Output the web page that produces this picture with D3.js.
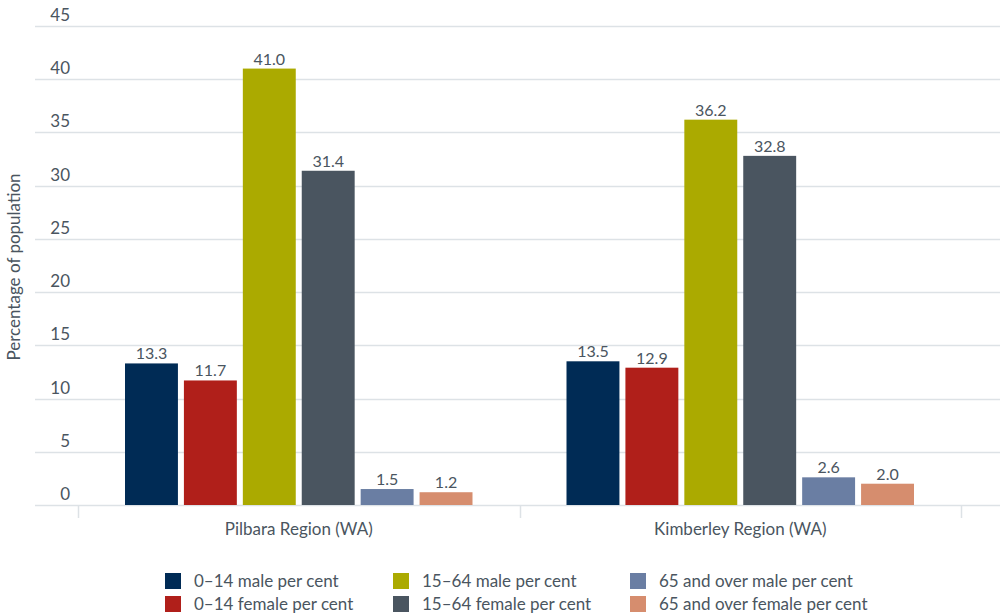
<!DOCTYPE html>
<html>
<head>
<meta charset="utf-8">
<script src="https://cdn.jsdelivr.net/npm/d3@7"></script>
<style>
  html, body { margin: 0; padding: 0; background: #fff; }
  svg { display: block; font-family: "Lato", "Open Sans", sans-serif; }
</style>
</head>
<body>
<svg id="chart" width="1000" height="614"></svg>
<script>
// Regions shown along the x axis
const regions = ["Pilbara Region (WA)", "Kimberley Region (WA)"];

// Age/sex groups (one bar each per region)
const seriesNames = [
  "0\u201314 male per cent",
  "0\u201314 female per cent",
  "15\u201364 male per cent",
  "15\u201364 female per cent",
  "65 and over male per cent",
  "65 and over female per cent"
];

// Percentage of population per series, ordered as regions
const male0to14     = [13.3, 13.5];
const female0to14   = [11.7, 12.9];
const male15to64    = [41.0, 36.2];
const female15to64  = [31.4, 32.8];
const male65plus    = [1.5, 2.6];
const female65plus  = [1.2, 2.0];

const yTicks = [0, 5, 10, 15, 20, 25, 30, 35, 40, 45];

const seriesColors = ["#002b55", "#b01f1a", "#abaa00", "#4a5560", "#6a7ea3", "#d68d6e"];

const seriesValues = [male0to14, female0to14, male15to64, female15to64, male65plus, female65plus];

const rows = [];
regions.forEach((r, ri) => {
  seriesNames.forEach((s, si) => {
    rows.push({ region: r, series: s, value: seriesValues[si][ri], color: seriesColors[si] });
  });
});

const svg = d3.select("#chart");
const textColor = "#4a5560";
const gridColor = "#dde2e6";

const gridLeft = 35, gridRight = 1000;
const y = d3.scaleLinear().domain([0, 45]).range([505, 26]);

const x0 = d3.scaleBand().domain(regions).range([78, 961]).paddingInner(0).paddingOuter(0);
const x1 = d3.scaleBand().domain(seriesNames)
  .range([47, x0.bandwidth() - 47]).paddingInner(6 / 59).paddingOuter(0);

// Horizontal gridlines
svg.append("g")
  .selectAll("line")
  .data(yTicks)
  .join("line")
  .attr("x1", gridLeft).attr("x2", gridRight)
  .attr("y1", d => Math.round(y(d)) + 0.5).attr("y2", d => Math.round(y(d)) + 0.5)
  .attr("stroke", gridColor).attr("stroke-width", 1.5);

// Y tick labels
svg.append("g")
  .selectAll("text")
  .data(yTicks)
  .join("text")
  .attr("x", 70)
  .attr("y", d => y(d) - 5)
  .attr("text-anchor", "end")
  .attr("fill", textColor)
  .attr("font-size", 17)
  .text(d => d);

// Category axis labels
const xAxis = d3.axisBottom(x0).tickSize(11).tickSizeOuter(0);
const gx = svg.append("g").attr("transform", "translate(0,506)");
gx.call(xAxis);
gx.select(".domain").remove();
gx.selectAll(".tick line").remove();
gx.selectAll(".tick text")
  .attr("y", 29)
  .attr("dy", 0)
  .attr("font-size", 17)
  .attr("font-family", "Lato, 'Open Sans', sans-serif")
  .attr("fill", textColor);
// Boundary ticks between categories
const bounds = [x0.range()[0], x0(regions[1]), x0.range()[1]];
svg.append("g")
  .selectAll("line")
  .data(bounds)
  .join("line")
  .attr("x1", d => Math.round(d) + 0.5).attr("x2", d => Math.round(d) + 0.5)
  .attr("y1", 506).attr("y2", 518)
  .attr("stroke", gridColor).attr("stroke-width", 1.5);

// Bars
const groups = svg.append("g")
  .selectAll("g")
  .data(regions)
  .join("g")
  .attr("transform", d => `translate(${x0(d)},0)`);

groups.selectAll("rect")
  .data(r => rows.filter(d => d.region === r))
  .join("rect")
  .attr("x", d => x1(d.series))
  .attr("width", x1.bandwidth())
  .attr("y", d => y(d.value))
  .attr("height", d => y(0) - y(d.value))
  .attr("fill", d => d.color);

groups.selectAll("text.val")
  .data(r => rows.filter(d => d.region === r))
  .join("text")
  .attr("class", "val")
  .attr("x", d => x1(d.series) + x1.bandwidth() / 2)
  .attr("y", d => y(d.value) - 4)
  .attr("text-anchor", "middle")
  .attr("fill", textColor)
  .attr("font-size", 16)
  .text(d => d.value.toFixed(1));

// Y axis title
svg.append("text")
  .attr("transform", "translate(20,267) rotate(-90)")
  .attr("text-anchor", "middle")
  .attr("fill", textColor)
  .attr("font-size", 17)
  .text("Percentage of population");

// Legend: three columns, two rows
const legendCols = [165, 393, 630];
const legendRows = [573, 596];
const legend = svg.append("g");
seriesNames.forEach((s, i) => {
  const col = Math.floor(i / 2), row = i % 2;
  const lx = legendCols[col], ly = legendRows[row];
  legend.append("rect")
    .attr("x", lx).attr("y", ly).attr("width", 16).attr("height", 16)
    .attr("fill", seriesColors[i]);
  legend.append("text")
    .attr("x", lx + 29).attr("y", ly + 14)
    .attr("fill", textColor)
    .attr("font-size", 17)
    .text(s);
});
</script>
</body>
</html>
